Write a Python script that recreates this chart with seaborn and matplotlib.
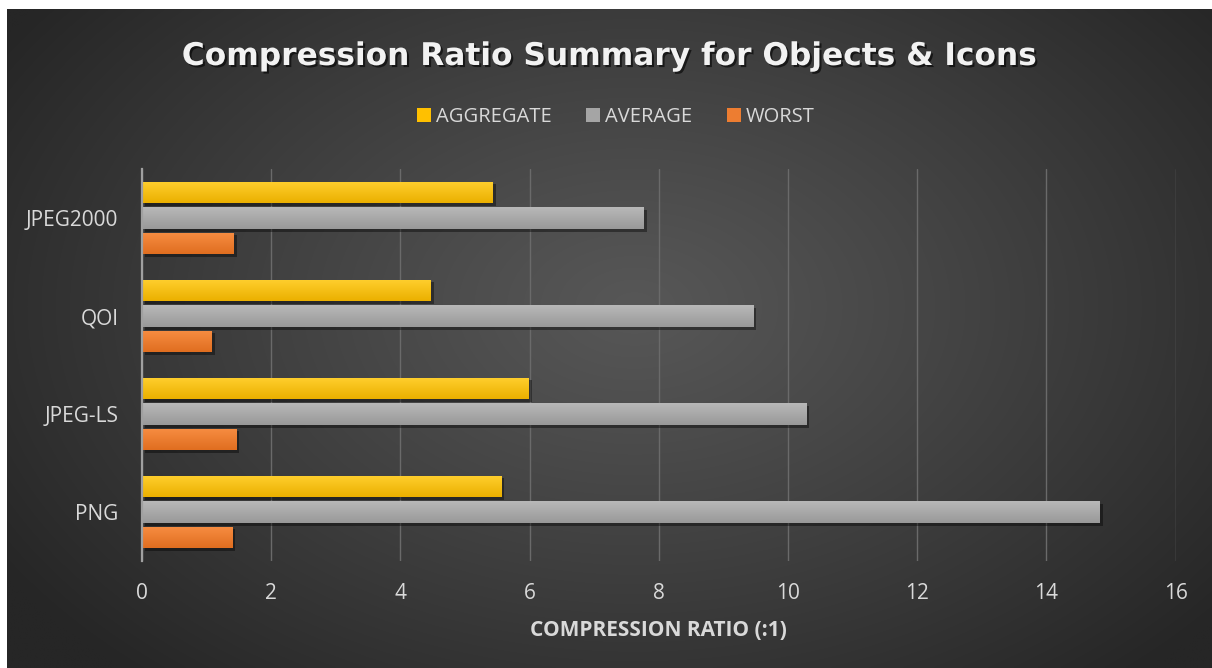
import numpy as np
import pandas as pd
import matplotlib
matplotlib.use("Agg")
import matplotlib.pyplot as plt
import matplotlib.patheffects as pe
from matplotlib.colors import to_rgb
import seaborn as sns

# ---- data ----
formats = ["JPEG2000", "QOI", "JPEG-LS", "PNG"]
series = ["AGGREGATE", "AVERAGE", "WORST"]
aggregate = [5.43, 4.47, 5.99, 5.56]
average = [7.77, 9.47, 10.28, 14.83]
worst = [1.42, 1.08, 1.46, 1.40]
xticks = [0, 2, 4, 6, 8, 10, 12, 14, 16]

title = "Compression Ratio Summary for Objects & Icons"
xlabel = "COMPRESSION RATIO (:1)"

colors = {"AGGREGATE": "#FFC000", "AVERAGE": "#A5A5A5", "WORST": "#ED7D31"}
grad = {"AGGREGATE": ("#FFCF2E", "#EBB000"),
        "AVERAGE": ("#B8B8B8", "#999999"),
        "WORST": ("#F78D42", "#E06E20")}

df = pd.DataFrame({
    "format": formats * 3,
    "series": [s for s in series for _ in formats],
    "value": aggregate + average + worst,
})

sns.set_theme(style="dark")
plt.rcParams["font.family"] = ["Open Sans", "DejaVu Sans"]

W, H = 1212, 668
fig = plt.figure(figsize=(W / 100, H / 100), dpi=100, facecolor="white")

# background radial gradient panel
bg = fig.add_axes([7 / W, 0, 1 - 7 / W, 1 - 9 / H], zorder=-10)
ny, nx = 300, 600
yy, xx = np.mgrid[0:ny, 0:nx]
cx, cy = 0.52 * nx, 0.45 * ny
r = np.sqrt(((xx - cx) / (0.62 * nx)) ** 2 + ((yy - cy) / (0.75 * ny)) ** 2)
r = np.clip(r, 0, 1) ** 1.1
c0 = np.array(to_rgb("#575757"))
c1 = np.array(to_rgb("#262626"))
img = c0[None, None, :] + (c1 - c0)[None, None, :] * r[:, :, None]
bg.imshow(img, aspect="auto", extent=(0, 1, 0, 1), interpolation="bilinear")
bg.set_axis_off()

ax = fig.add_axes([142 / W, 1 - 561 / H, (1175.5 - 142) / W, (561 - 169) / H])
ax.patch.set_alpha(0)

sns.barplot(data=df, y="format", x="value", hue="series", order=formats,
            hue_order=series, palette=colors, orient="h", width=0.78,
            gap=0.14, ax=ax, legend=True, saturation=1)

# shading & shadow on bars
n = len(formats)
for i, patch in enumerate(ax.patches[: n * len(series)]):
    s = series[i // n]
    patch.set_edgecolor("none")
    patch.set_path_effects([pe.SimplePatchShadow(offset=(2, -2), shadow_rgbFace="black", alpha=0.4), pe.Normal()])
    bb = patch.get_bbox()
    top, bot = np.array(to_rgb(grad[s][0])), np.array(to_rgb(grad[s][1]))
    t = np.linspace(0, 1, 32)[:, None, None]
    g = top + (bot - top) * t[:, :, 0][:, :, None]
    g = np.repeat(g, 2, axis=1)
    im = ax.imshow(g, extent=(bb.x0, bb.x1, bb.y1, bb.y0), aspect="auto",
                   interpolation="bilinear", zorder=patch.get_zorder() + 0.1)
    im.set_clip_path(patch)

ax.set_xlim(0, 16)
ax.set_ylim(len(formats) - 0.5, -0.5)
ax.set_xticks(xticks)
ax.set_xticklabels([str(v) for v in xticks])
ax.grid(axis="x", color="#6A6A6A", linewidth=1.0)
ax.grid(axis="y", visible=False)
ax.set_axisbelow(True)
for sp in ["top", "right", "bottom"]:
    ax.spines[sp].set_visible(False)
ax.spines["left"].set_color("#A0A0A0")
ax.spines["left"].set_linewidth(1.6)
ax.spines["left"].set_zorder(5)
ax.tick_params(axis="both", length=0, colors="#D9D9D9", labelsize=15)
ax.tick_params(axis="y", pad=17)
ax.tick_params(axis="x", pad=16)
ax.set_ylabel("")
ax.set_xlabel(xlabel, color="#D9D9D9", fontsize=15, fontweight="bold", labelpad=11)

handles, labels = ax.get_legend_handles_labels()
for h in handles:
    h.set_edgecolor("none")
ax.get_legend().remove()
leg = fig.legend(handles, labels, loc="center", bbox_to_anchor=(616 / W, 1 - 117 / H),
                 ncol=3, frameon=False, fontsize=14.5, labelcolor="#D9D9D9",
                 handlelength=0.7, handleheight=0.7, handletextpad=0.25,
                 columnspacing=1.7)
for h in leg.legend_handles:
    h.set_edgecolor("none")

fig.text(609.5 / W, 1 - 65 / H, title, ha="center", va="baseline",
         fontsize=22.5, fontweight="bold", color="#F2F2F2",
         family=["DejaVu Sans"],
         path_effects=[pe.withSimplePatchShadow(offset=(1.5, -1.5), shadow_rgbFace="black", alpha=0.6)])

fig.savefig("out.png", dpi=100, facecolor="white")
